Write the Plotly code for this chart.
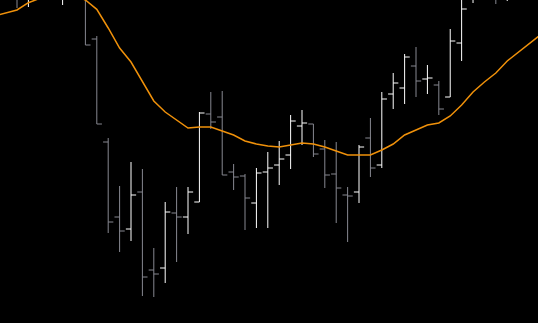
import plotly.graph_objects as go

# Bar index (x positions are bar numbers)
bar_index = list(range(0, 46))

open_ = [132.4, 130.4, 131.6, 133.2, 130.8, 132.4, 130.6, 122.2, 101.6, 86.6,
         84.2, 91.6, 76.0, 76.4, 87.4, 86.6, 89.6, 107.2, 106.6, 95.6,
         94.8, 89.4, 95.6, 97.0, 99.0, 104.8, 105.2, 100.2, 95.2, 91.0,
         91.6, 102.4, 97.0, 111.2, 112.4, 116.8, 114.2, 113.0, 110.6, 121.4,
         130.4, 133.2, 131.6, 130.4, 131.6, 133.6]
high = [133.0, 132.8, 134.4, 134.0, 133.6, 133.2, 131.2, 122.8, 102.4, 92.8,
        97.6, 96.2, 80.4, 89.6, 92.6, 92.6, 107.6, 111.6, 111.8, 97.2,
        95.2, 96.4, 99.6, 101.8, 107.0, 108.0, 105.2, 102.0, 101.6, 92.6,
        101.0, 106.4, 111.6, 115.4, 119.2, 120.6, 117.0, 113.8, 124.2, 131.6,
        134.0, 134.4, 132.8, 133.2, 134.8, 135.2]
low = [128.4, 128.6, 130.6, 130.4, 129.0, 130.2, 121.0, 105.2, 83.4, 79.6,
       81.8, 70.8, 70.6, 73.4, 77.6, 83.2, 89.6, 104.2, 95.0, 92.0,
       84.0, 84.4, 84.4, 93.0, 96.2, 101.0, 98.6, 92.4, 85.4, 81.6,
       89.4, 94.6, 96.4, 108.2, 109.2, 110.6, 111.2, 107.0, 110.6, 117.8,
       129.4, 130.8, 129.2, 129.8, 130.6, 131.2]
close = [130.6, 131.2, 133.2, 131.2, 132.4, 130.8, 121.0, 105.2, 85.6, 83.8,
         91.0, 74.6, 75.2, 87.6, 86.6, 91.6, 107.4, 105.6, 95.0, 94.6,
         90.4, 95.4, 96.4, 98.2, 105.8, 105.4, 99.2, 95.0, 92.4, 90.8,
         100.6, 96.4, 110.2, 113.4, 118.6, 113.8, 114.4, 108.2, 121.8, 128.2,
         132.8, 131.6, 130.6, 132.0, 133.6, 132.4]

# Moving-average line
ma_index = list(range(-2, 47))
ma_values = [126.8, 127.4, 128.0, 129.46, 130.4, 131.2, 131.6, 131.0, 130.0, 128.14,
             124.4, 120.4, 117.6, 113.6, 109.8, 107.6, 106.0, 104.4, 104.6, 104.6,
             103.8, 103.0, 101.8, 101.2, 100.8, 100.6, 101.0, 101.4, 101.2, 100.6,
             99.8, 99.0, 99.0, 99.0, 100.0, 101.2, 103.0, 104.0, 105.0, 105.4,
             106.8, 109.0, 111.6, 113.6, 115.4, 117.8, 119.6, 121.4, 123.2]

fig = go.Figure()
fig.add_trace(go.Ohlc(
    x=bar_index, open=open_, high=high, low=low, close=close,
    increasing=dict(line=dict(color="#ffffff", width=1)),
    decreasing=dict(line=dict(color="#878891", width=1)),
    tickwidth=0.45,
    hoverinfo="skip",
))
fig.add_trace(go.Scatter(
    x=ma_index, y=ma_values, mode="lines",
    line=dict(color="rgb(240,145,10)", width=1.5),
    hoverinfo="skip",
))

fig.update_layout(
    width=538, height=323,
    margin=dict(l=0, r=0, t=0, b=0),
    paper_bgcolor="#000000", plot_bgcolor="#000000",
    showlegend=False,
    xaxis=dict(visible=False, range=[-1.491, 45.70], rangeslider=dict(visible=False),
               showgrid=False, zeroline=False),
    yaxis=dict(visible=False, range=[65.4, 130.0], showgrid=False, zeroline=False),
)

fig.write_html("out.html")
